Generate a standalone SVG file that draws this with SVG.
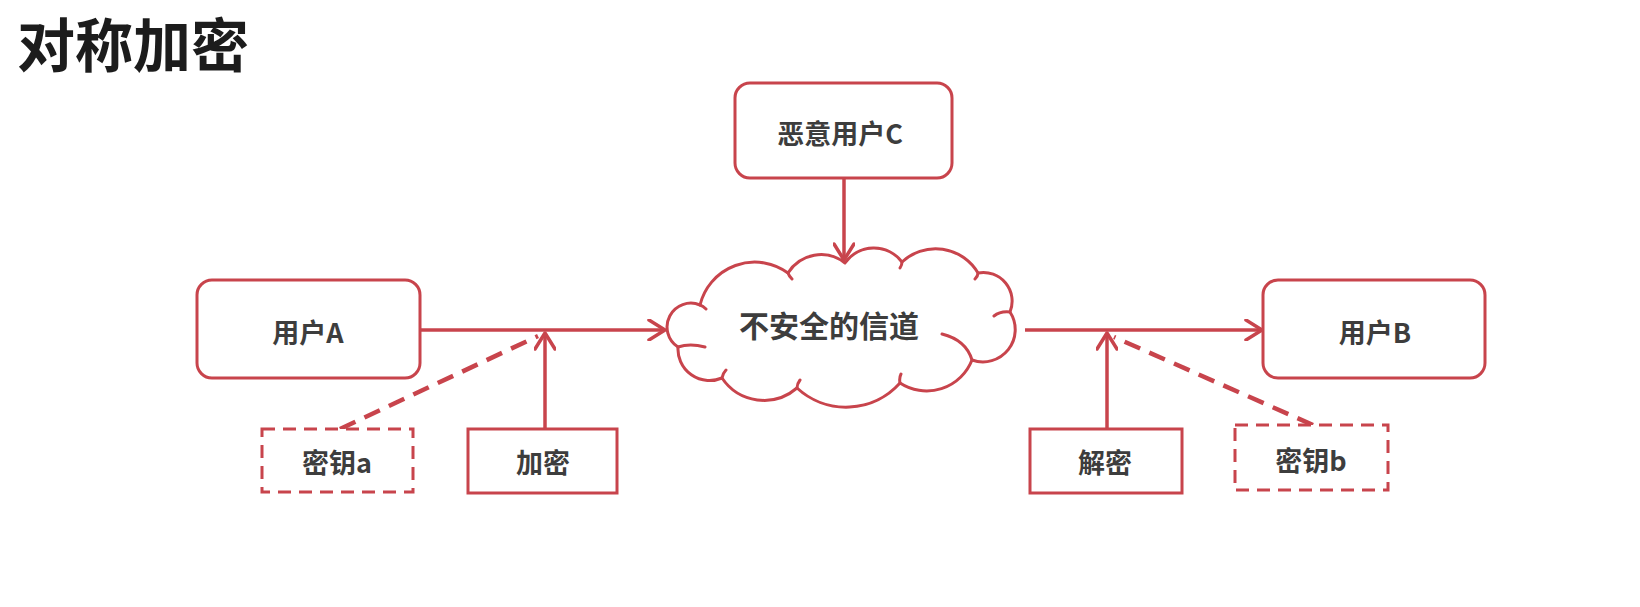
<svg xmlns="http://www.w3.org/2000/svg" width="1640" height="607" viewBox="0 0 1640 607">
<style>
.box{fill:#fff;stroke:#c8444c;stroke-width:3}
.dbox{fill:#fff;stroke:#c8444c;stroke-width:3;stroke-dasharray:13 8}
.lbl{font-family:"Noto Sans CJK SC","Noto Sans",sans-serif;font-weight:bold;font-size:27px;fill:#3d3d3d;text-anchor:middle;dominant-baseline:central}
.ln{fill:none;stroke:#c8444c;stroke-width:3.5}
.dash{fill:none;stroke:#c8444c;stroke-width:4.5;stroke-dasharray:17 10}
.cloud{fill:#fff;stroke:#c8444c;stroke-width:3;stroke-linejoin:round}
.inner{fill:none;stroke:#c8444c;stroke-width:3;stroke-linecap:round}
</style>
<defs>
<marker id="arr" viewBox="0 0 20 22" refX="18" refY="11" markerWidth="20" markerHeight="22" markerUnits="userSpaceOnUse" orient="auto">
<path d="M2,1 L18,11 L2,21" fill="none" stroke="#c8444c" stroke-width="3.5" stroke-linecap="round" stroke-linejoin="round"/>
</marker>
</defs>
<rect width="1640" height="607" fill="#fff"/>
<text x="17" y="67" font-family="Noto Sans CJK SC, sans-serif" font-weight="bold" font-size="58" fill="#1c1c1c">对称加密</text>

<g id="connectors">
<line class="ln" x1="420" y1="330" x2="665" y2="330" marker-end="url(#arr)"/>
<line class="ln" x1="1025" y1="330" x2="1262" y2="330" marker-end="url(#arr)"/>
<line class="ln" x1="844" y1="178" x2="844" y2="260" marker-end="url(#arr)"/>
<line class="ln" x1="545" y1="429" x2="545" y2="333" marker-end="url(#arr)"/>
<line class="ln" x1="1107" y1="429" x2="1107" y2="333" marker-end="url(#arr)"/>
<line class="dash" x1="340" y1="429" x2="538" y2="336"/>
<line class="dash" x1="1313" y1="425" x2="1114" y2="337"/>
</g>

<g id="cloud">
<path class="cloud" d="M700,305 A56.3,56.3 0 0 1 788,273 A38.8,38.8 0 0 1 845,263 A35.2,35.2 0 0 1 902,262 A49.1,49.1 0 0 1 978,273 A28.7,28.7 0 0 1 1010,312 A32.3,32.3 0 0 1 972,360 A48.7,48.7 0 0 1 900,383 A72.4,72.4 0 0 1 797,388 A50.5,50.5 0 0 1 722,378 A31.6,31.6 0 0 1 678,347 A23.8,23.8 0 0 1 700,305 Z"/>
<path class="inner" d="M942,334 Q966,340 972,360 M1010,312 Q1000,311 994,316 M678,347 Q690,343 705,347 M722,378 Q723,373 726,370 M900,383 Q899,378 901,374 M788,273 Q789,276 792,279 M700,305 Q703,306 706,309 M978,273 Q978,276 975,279 M797,388 Q797,384 800,380 M902,262 Q902,265 900,268"/>
<text class="lbl" x="829" y="324" style="font-size:30px">不安全的信道</text>
</g>

<g id="userA">
<rect class="box" x="197" y="280" width="223" height="98" rx="15"/>
<text class="lbl" x="308" y="331">用户A</text>
</g>
<g id="userB">
<rect class="box" x="1263" y="280" width="222" height="98" rx="15"/>
<text class="lbl" x="1375" y="331">用户B</text>
</g>
<g id="userC">
<rect class="box" x="735" y="83" width="217" height="95" rx="15"/>
<text class="lbl" x="840" y="132">恶意用户C</text>
</g>
<g id="encrypt">
<rect class="box" x="468" y="429" width="149" height="64"/>
<text class="lbl" x="543" y="461">加密</text>
</g>
<g id="decrypt">
<rect class="box" x="1030" y="429" width="152" height="64"/>
<text class="lbl" x="1105" y="461">解密</text>
</g>
<g id="keyA">
<rect class="dbox" x="262" y="429" width="151" height="63"/>
<text class="lbl" x="337" y="461">密钥a</text>
</g>
<g id="keyB">
<rect class="dbox" x="1235" y="425" width="153" height="65"/>
<text class="lbl" x="1311" y="459">密钥b</text>
</g>
</svg>
